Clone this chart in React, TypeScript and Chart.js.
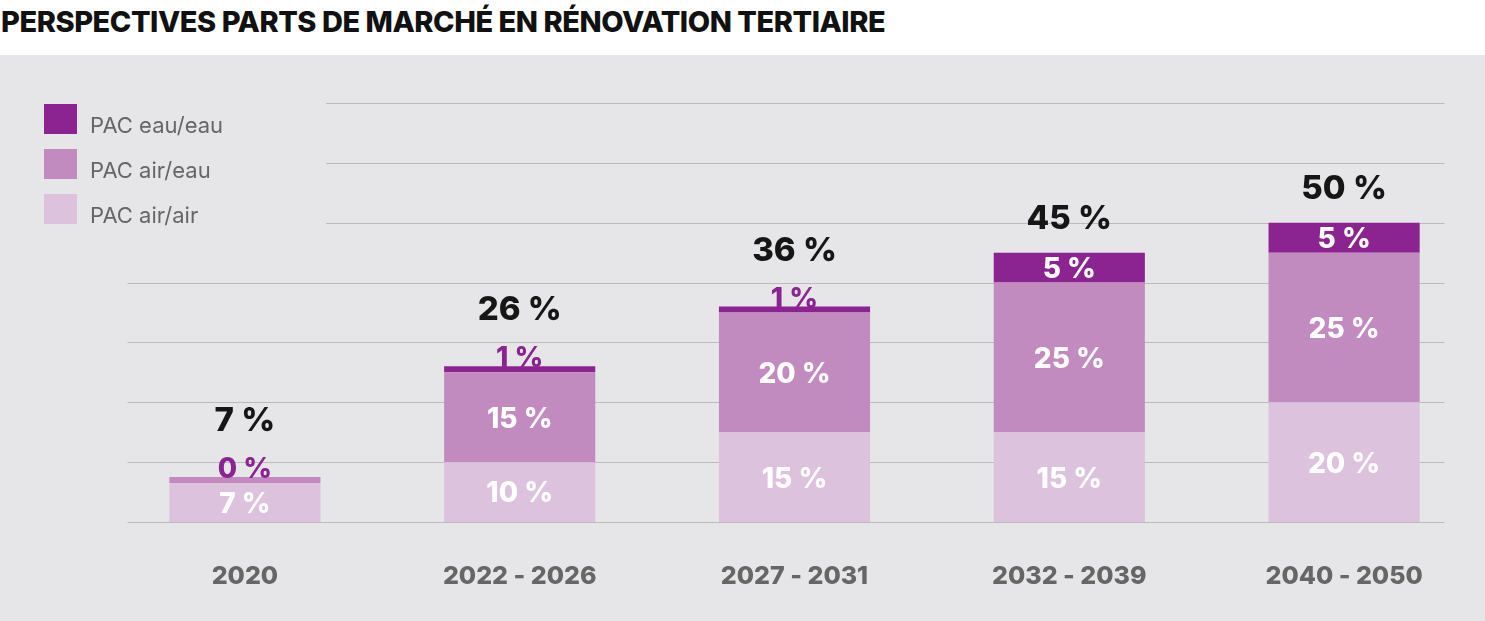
import React, { useEffect, useRef } from "react";
import { Chart, registerables } from "chart.js";

Chart.register(...registerables);

const categories = ["2020", "2022 - 2026", "2027 - 2031", "2032 - 2039", "2040 - 2050"];
const seriesNames = ["PAC air/air", "PAC air/eau", "PAC eau/eau"];
const airAir = [6.5, 10, 15, 15, 20];
const airEau = [1, 15, 20, 25, 25];
const eauEau = [0, 1, 1, 5, 5];
const totals = [7, 26, 36, 45, 50];
const yTicks = [0, 10, 20, 30, 40, 50, 60, 70];

const colors = ["#DDC2DD", "#C28BBF", "#8B2390"];
const FONT = "Inter, 'Open Sans', 'DejaVu Sans', sans-serif";

const gridPlugin = {
  id: "customGrid",
  beforeDatasetsDraw(chart: any) {
    const { ctx, chartArea, scales } = chart;
    const y = scales.y;
    ctx.save();
    ctx.strokeStyle = "#BBBBBD";
    ctx.lineWidth = 1.2;
    yTicks.forEach((v) => {
      const py = Math.round(y.getPixelForValue(v)) + 0.5;
      const x0 = v >= 50 ? 326 : chartArea.left + 20;
      const x1 = chartArea.right - 37;
      ctx.beginPath();
      ctx.moveTo(x0, py);
      ctx.lineTo(x1, py);
      ctx.stroke();
    });
    ctx.restore();
  },
};

const legendPlugin = {
  id: "customLegend",
  afterDraw(chart: any) {
    const { ctx, chartArea } = chart;
    const ds = chart.data.datasets;
    ctx.save();
    for (let k = 0; k < ds.length; k++) {
      const d = ds[ds.length - 1 - k];
      const top = chartArea.top + 1 + k * 45;
      ctx.fillStyle = d.backgroundColor;
      ctx.fillRect(44, top, 33, 30);
      ctx.fillStyle = "#666666";
      ctx.font = `400 22px ${FONT}`;
      ctx.textAlign = "left";
      ctx.textBaseline = "alphabetic";
      ctx.fillText(d.label, 90, top + 29);
    }
    ctx.restore();
  },
};

const labelPlugin = {
  id: "valueLabels",
  afterDatasetsDraw(chart: any) {
    const { ctx } = chart;
    ctx.save();
    ctx.textAlign = "center";
    const n = chart.data.labels.length;
    for (let j = 0; j < n; j++) {
      let smallTop = false;
      let stackTop = Infinity;
      chart.data.datasets.forEach((d: any, i: number) => {
        const el = chart.getDatasetMeta(i).data[j];
        const v = d.data[j];
        stackTop = Math.min(stackTop, el.y);
        const txt = `${Math.round(v)} %`;
        if (v >= 3) {
          ctx.font = `800 28px ${FONT}`;
          ctx.fillStyle = "#FFFFFF";
          ctx.textBaseline = "middle";
          ctx.fillText(txt, el.x, (el.y + el.base) / 2 + 2);
        } else if (i === chart.data.datasets.length - 1) {
          smallTop = true;
          ctx.font = `800 28px ${FONT}`;
          ctx.fillStyle = colors[2];
          ctx.textBaseline = "alphabetic";
          ctx.fillText(txt, el.x, el.y + 1);
        }
      });
      const x = chart.getDatasetMeta(0).data[j].x;
      ctx.font = `800 33px ${FONT}`;
      ctx.fillStyle = "#161616";
      ctx.textBaseline = "alphabetic";
      ctx.fillText(`${totals[j]} %`, x, stackTop - (smallTop ? 46 : 24));
    }
    ctx.restore();
  },
};

export default function App() {
  const ref = useRef<HTMLCanvasElement>(null);
  useEffect(() => {
    if (!ref.current) return;
    const chart = new Chart(ref.current, {
      type: "bar",
      data: {
        labels: categories,
        datasets: [
          { label: seriesNames[0], data: airAir, backgroundColor: colors[0] },
          { label: seriesNames[1], data: airEau, backgroundColor: colors[1] },
          { label: seriesNames[2], data: eauEau, backgroundColor: colors[2] },
        ],
      },
      options: {
        animation: false,
        responsive: false,
        maintainAspectRatio: false,
        devicePixelRatio: 1,
        layout: { padding: { top: 48, left: 107.5, right: 3.5, bottom: 0 } },
        datasets: { bar: { categoryPercentage: 1, barPercentage: 0.55, borderWidth: 0 } },
        plugins: { legend: { display: false }, tooltip: { enabled: false } },
        scales: {
          x: {
            stacked: true,
            grid: { display: false },
            border: { display: false },
            ticks: { color: "#666666", font: { family: FONT, size: 25, weight: "800" }, padding: 31 },
            afterFit: (s: any) => {
              s.height = 99;
            },
          },
          y: {
            stacked: true,
            display: false,
            min: 0,
            max: 70,
          },
        },
      },
      plugins: [gridPlugin, labelPlugin, legendPlugin],
    });
    return () => chart.destroy();
  }, []);

  return (
    <div style={{ position: "absolute", left: 0, top: 0, width: 1485, height: 621, background: "#FFFFFF", overflow: "hidden" }}>
      <div
        style={{
          position: "absolute",
          left: 1,
          top: 4,
          fontFamily: FONT,
          fontWeight: 800,
          fontSize: 29,
          color: "#111111",
          letterSpacing: -0.45,
          whiteSpace: "nowrap",
          lineHeight: "36px",
        }}
      >
        PERSPECTIVES PARTS DE MARCHÉ EN RÉNOVATION TERTIAIRE
      </div>
      <div style={{ position: "absolute", left: 0, top: 55, width: 1485, height: 566, background: "#E6E6E8" }}>
        <canvas ref={ref} width={1485} height={566} style={{ display: "block" }} />
      </div>
    </div>
  );
}
